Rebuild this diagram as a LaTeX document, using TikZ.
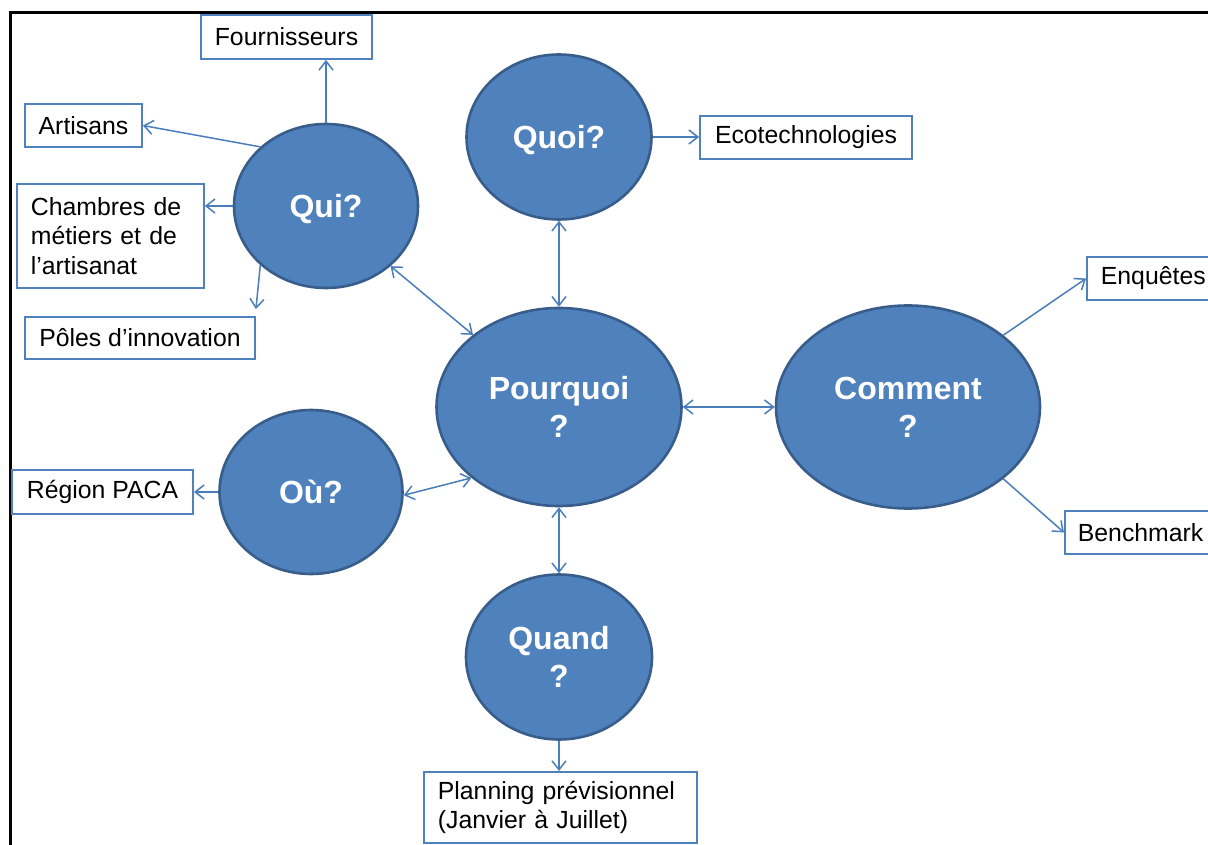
\documentclass[tikz,border=0pt]{standalone}
\usepackage{fontspec}
\setmainfont{Liberation Sans}
\usetikzlibrary{shapes.geometric,arrows.meta}
\definecolor{ellfill}{HTML}{4F81BD}
\definecolor{elldraw}{HTML}{385D8A}
\definecolor{linkc}{HTML}{4A7EBB}
\definecolor{boxc}{HTML}{4F81BD}
\begin{document}
\begin{tikzpicture}[x=1pt,y=-1pt,
  bubble/.style={ellipse, fill=ellfill, draw=elldraw, line width=2.6pt, inner sep=0pt,
    text=white, font=\fontsize{32}{38}\selectfont\bfseries, align=center},
  oneline/.style={text height=23pt, text depth=0pt},
  tbox/.style={draw=boxc, line width=1.8pt, fill=white, inner sep=0pt,
    font=\fontsize{24.8}{29.5}\selectfont, text=black},
  link/.style={draw=linkc, line width=1.5pt, -{Straight Barb[length=9pt,width=14pt]}},
  dlink/.style={draw=linkc, line width=1.5pt, {Straight Barb[length=9pt,width=14pt]}-{Straight Barb[length=9pt,width=14pt]}}
]
\useasboundingbox (0,0) rectangle (1208,845);
\clip (0,0) rectangle (1208,845);
\fill[white] (0,0) rectangle (1208,845);
\draw[line width=3pt, black] (10,900) -- (10,13) -- (1300,13);

% bubbles
\node[bubble, oneline, minimum width=184pt, minimum height=164pt] (qui) at (326,206) {Qui?};
\node[bubble, oneline, minimum width=185pt, minimum height=165pt] (quoi) at (559,137) {Quoi?};
\node[bubble, minimum width=245pt, minimum height=198pt] (pourquoi) at (559,407) {Pourquoi\\?};
\node[bubble, minimum width=264pt, minimum height=203pt] (comment) at (908,407) {Comment\\?};
\node[bubble, oneline, minimum width=183pt, minimum height=164pt] (ou) at (311,492) {Où?};
\node[bubble, minimum width=186pt, minimum height=165pt] (quand) at (559,657) {Quand\\?};

% boxes
\node[tbox, minimum width=171pt, minimum height=44pt] (four) at (286.5,37) {Fournisseurs};
\node[tbox, minimum width=117pt, minimum height=43pt] (art) at (83.5,125.5) {Artisans};
\node[tbox, anchor=north west, text width=159pt, inner xsep=14pt, inner ysep=8pt,
  align=left, minimum height=104pt] (cham) at (16,183) {Chambres de\\métiers et de\\l’artisanat};
\node[tbox, minimum width=230pt, minimum height=42pt] (poles) at (140,338) {Pôles d’innovation};
\node[tbox, minimum width=212pt, minimum height=43pt] (eco) at (806,137.5) {Ecotechnologies};
\node[tbox, anchor=west, text width=150pt, inner xsep=14pt, align=left,
  minimum height=43pt] (enq) at (1086,278.5) {Enquêtes};
\node[tbox, anchor=west, text width=150pt, inner xsep=13pt, align=left,
  minimum height=43pt] (bench) at (1064,532.5) {Benchmark};
\node[tbox, minimum width=181pt, minimum height=44pt] (reg) at (102.5,492) {Région PACA};
\node[tbox, anchor=north west, text width=245pt, inner xsep=14pt, inner ysep=9pt,
  align=left] (plan) at (423,771) {Planning prévisionnel\\(Janvier à Juillet)};

% connectors
\draw[link] (qui.north) -- (qui.north |- four.south);
\draw[link] (qui.138.7) -- (art.east);
\draw[link] (qui.west) -- (qui.west -| cham.east);
\draw[link] (qui.222.7) -- ([yshift=7pt]poles.north east);
\draw[dlink] (qui.317.7) -- (pourquoi.140.9);
\draw[dlink] (quoi.south) -- (pourquoi.north);
\draw[link] (quoi.east) -- (quoi.east -| eco.west);
\draw[dlink] (pourquoi.east) -- (comment.west);
\draw[dlink] (ou.-2) -- (pourquoi.219.1);
\draw[dlink] (pourquoi.south) -- (quand.north);
\draw[link] (ou.west) -- (ou.west -| reg.east);
\draw[link] (comment.37.7) -- (enq.west);
\draw[link] (comment.-37.8) -- (bench.west);
\draw[link] (quand.south) -- (quand.south |- plan.north);
\end{tikzpicture}
\end{document}
